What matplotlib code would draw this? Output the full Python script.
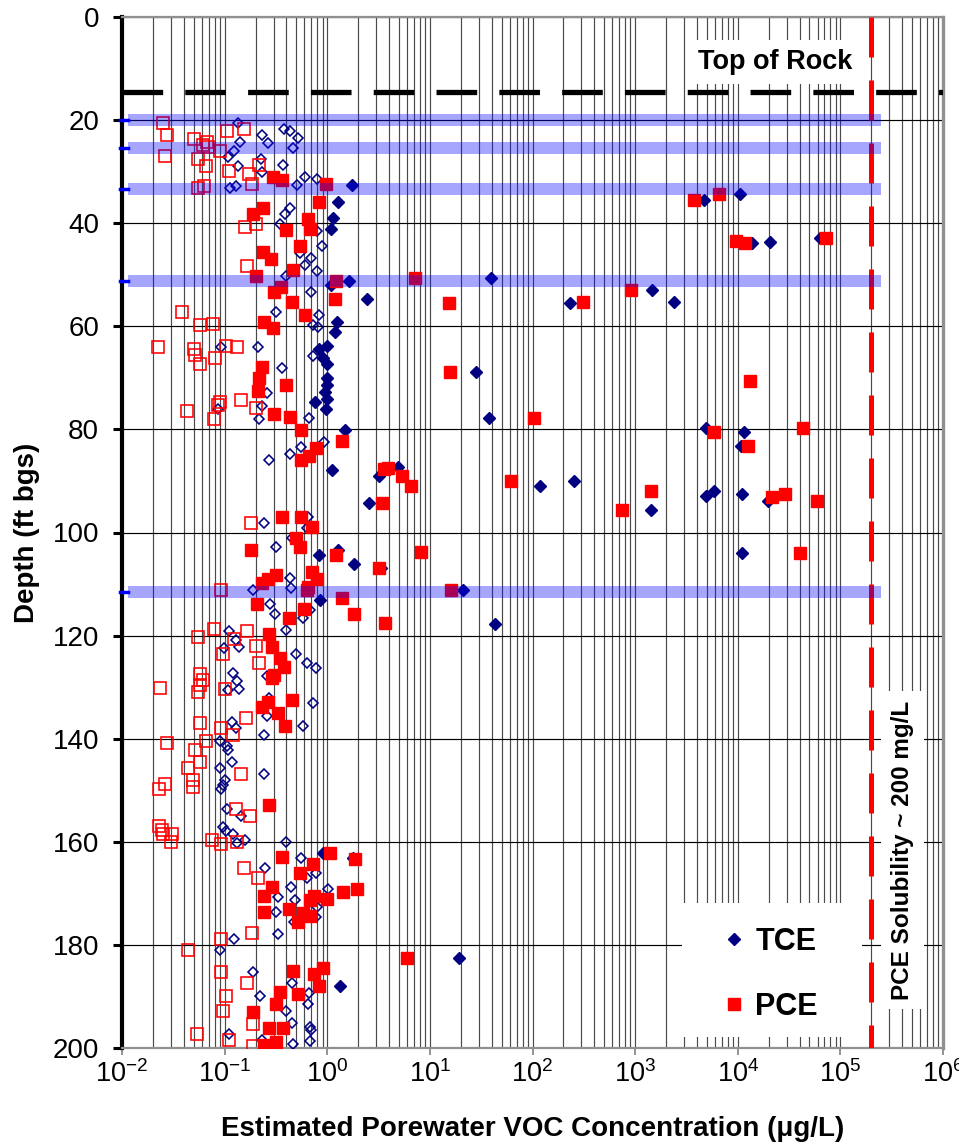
import numpy as np
import matplotlib
matplotlib.use('Agg')
import matplotlib.pyplot as plt
from matplotlib.ticker import LogLocator, FixedLocator, NullFormatter, LogFormatterSciNotation
from matplotlib.patches import Rectangle

plt.rcParams['font.family'] = ['Liberation Sans', 'DejaVu Sans']
plt.rcParams['mathtext.fontset'] = 'custom'
plt.rcParams['mathtext.rm'] = 'Liberation Sans'
plt.rcParams['mathtext.it'] = 'Liberation Sans:italic'
plt.rcParams['mathtext.bf'] = 'Liberation Sans:bold'

# ---------------- data ----------------
tce_conc = [1.73, 1.27, 1.15, 1.10, 1.63, 1.10, 2.44, 1.24, 1.19,
            0.99, 0.83, 0.91, 0.99, 0.99, 1.00, 0.96, 1.00, 0.76, 0.97, 1.49, 1.12, 0.83, 1.28,
            1.84, 0.85, 0.91, 1.8, 1.33,
            39.3, 231, 1449, 2410, 4723, 10550, 13900, 20500, 63000,
            28.3, 37.6, 4856, 11420, 10700, 4.86, 3.21, 2.55, 118.6, 255, 1439, 4944, 5862,
            11000, 19600, 11000, 3.36, 21.1, 42.8, 19.4]
tce_depth = [32.5, 35.9, 38.9, 41.2, 51.2, 52.0, 54.8, 59.1, 61.2,
             63.8, 64.5, 66.2, 67.4, 70.1, 71.4, 72.7, 74.1, 74.6, 76.0, 80.1, 87.9, 104.4, 103.4,
             106.2, 113.0, 162.2, 163.2, 188.0,
             50.7, 55.5, 53.0, 55.2, 35.5, 34.4, 43.8, 43.6, 42.9,
             68.8, 77.7, 79.8, 80.6, 83.2, 87.2, 89.0, 94.2, 90.9, 90.1, 95.6, 92.9, 91.9,
             92.5, 93.8, 104.0, 106.9, 111.2, 117.7, 182.5]

tce_open_conc = [0.136, 0.23, 0.267, 0.141, 0.123, 0.108, 0.379, 0.43, 0.523, 0.46, 0.226, 0.136,
                 0.23, 0.372, 0.113, 0.128, 0.51, 0.608, 0.79, 0.43, 0.388, 0.346, 0.79, 0.89,
                 0.543, 0.70, 0.608, 0.79, 0.40, 0.69, 0.314, 0.837, 0.73, 0.82,
                 0.213, 0.092, 0.72, 0.36, 0.256, 0.23, 0.216, 0.087, 0.66, 0.93, 0.43, 0.56,
                 0.27, 0.243, 0.646, 0.63, 0.45, 0.32,
                 0.188, 0.277, 0.31, 0.575, 0.68, 0.397, 0.43, 0.44, 0.111, 0.128, 0.138, 0.099,
                 0.50, 0.64, 0.78, 0.256, 0.12, 0.131, 0.138, 0.108, 0.27, 0.256, 0.73, 0.575,
                 0.117, 0.128, 0.243, 0.09, 0.106, 0.117, 0.09, 0.24, 0.101, 0.097, 0.093, 0.108,
                 0.106, 0.146, 0.097, 0.104, 0.121, 0.131, 0.158, 0.40, 0.557, 0.25, 0.63, 0.78,
                 0.44, 1.02, 0.33, 0.48, 0.32, 0.79, 0.78, 0.47, 0.33, 0.124, 0.09, 0.19, 0.45,
                 0.67, 0.22, 0.65, 0.397, 0.45, 0.68, 0.69, 0.11, 0.23, 0.46, 0.68]
tce_open_depth = [20.5, 22.8, 24.5, 24.3, 26.0, 27.2, 21.8, 22.2, 23.5, 25.5, 27.6, 28.9,
                  30.0, 28.7, 33.2, 32.8, 32.6, 31.1, 31.5, 37.1, 38.3, 40.2, 41.6, 44.4,
                  45.8, 46.8, 48.2, 49.2, 50.2, 53.4, 57.2, 57.8, 59.7, 60.2,
                  64.1, 64.0, 65.8, 68.0, 73.0, 75.5, 78.0, 76.1, 77.7, 82.4, 84.8, 83.5,
                  85.9, 98.1, 96.9, 99.2, 101.1, 102.9,
                  111.2, 113.9, 115.8, 116.6, 115.0, 118.9, 108.9, 110.8, 119.2, 120.9, 122.2, 122.5,
                  123.6, 125.4, 126.2, 127.8, 127.3, 128.9, 130.4, 130.6, 132.2, 135.5, 133.0, 137.5,
                  136.8, 137.9, 139.2, 140.4, 141.4, 144.5, 145.6, 146.8, 148.1, 149.0, 149.8, 142.2,
                  153.7, 155.0, 157.2, 158.0, 158.4, 160.3, 159.7, 160.1, 163.1, 165.0, 167.1, 166.1,
                  168.8, 169.2, 170.8, 171.3, 173.6, 172.7, 174.5, 175.5, 177.8, 178.9, 181.0, 185.2, 187.3,
                  189.4, 190.0, 191.5, 192.9, 195.2, 196.0, 196.6, 197.3, 198.5, 199.2, 198.6]

pce_conc = [0.298, 0.36, 0.973, 0.837, 0.235, 0.19, 0.646, 0.397, 0.68, 0.543, 0.237, 0.283,
            0.468, 0.201, 1.21, 0.355, 0.305, 1.19, 0.451, 0.608, 0.244, 0.294,
            0.233, 0.216, 0.213, 0.397, 0.30, 0.43, 0.557, 1.40, 0.77, 0.66, 0.56, 0.366, 0.557,
            0.71, 0.50, 0.543, 0.18, 1.21,
            0.314, 0.267, 0.23, 0.71, 0.79, 0.65, 0.64, 1.40, 0.205, 0.60, 0.42, 1.84, 0.27, 0.29,
            0.35, 0.38, 0.30, 0.29, 0.45, 0.267, 0.23, 0.33, 0.39,
            0.27, 0.36, 0.73, 1.07, 1.86, 0.543, 0.287, 0.24, 1.42, 1.94, 1.0, 0.75, 0.68, 0.42,
            0.243, 0.58, 0.68, 0.52, 0.46, 0.75, 0.91, 0.84, 0.52, 0.35, 0.32, 0.19, 0.27, 0.37,
            0.32, 0.243,
            7.17, 15.5, 311, 902, 3741, 6516, 9600, 11700, 71700,
            15.6, 104, 13300, 5862, 12500, 43500, 3.56, 3.89, 5.3, 6.59, 3.44, 62.1, 1413, 752,
            21400, 29000, 59300, 8.17, 3.16, 15.9, 3.69, 40200, 6.04]
pce_depth = [31.1, 31.6, 32.4, 35.8, 37.1, 38.3, 39.1, 41.4, 41.2, 44.4, 45.6, 46.9,
             49.1, 50.2, 51.2, 52.3, 53.4, 54.7, 55.2, 57.8, 59.1, 60.4,
             67.8, 70.1, 72.6, 71.3, 77.1, 77.5, 80.1, 82.2, 83.7, 85.2, 85.9, 96.9, 96.9,
             99.0, 101.1, 102.8, 103.4, 104.4,
             108.2, 109.1, 109.7, 107.6, 109.1, 110.5, 111.2, 112.8, 113.9, 114.9, 116.6, 115.9, 119.6, 122.3,
             124.4, 126.0, 127.6, 128.2, 132.5, 132.9, 133.8, 135.1, 137.5,
             152.9, 163.0, 164.3, 162.2, 163.4, 166.0, 168.8, 170.6, 169.7, 169.2, 171.0, 170.5, 171.3, 173.1,
             173.7, 173.9, 174.4, 175.5, 185.1, 185.7, 184.5, 188.0, 189.5, 189.2, 191.5, 193.1, 196.2, 196.2,
             198.9, 199.4,
             50.7, 55.5, 55.2, 53.0, 35.5, 34.4, 43.5, 43.8, 42.9,
             68.8, 77.7, 70.6, 80.6, 83.2, 79.8, 87.6, 87.4, 89.0, 90.9, 94.2, 90.1, 91.9, 95.6,
             93.1, 92.5, 93.8, 103.8, 106.9, 111.2, 117.6, 104.0, 182.5]

pce_open_conc = [0.0253, 0.0277, 0.0507, 0.0669, 0.069, 0.061, 0.106, 0.156, 0.090, 0.0262, 0.0554,
                 0.0659, 0.110, 0.216, 0.174, 0.186, 0.0547, 0.0631, 0.158, 0.201, 0.164, 0.0387,
                 0.0575, 0.0776,
                 0.0223, 0.0507, 0.052, 0.0575, 0.081, 0.104, 0.131, 0.146, 0.09, 0.087, 0.0427,
                 0.0794, 0.201, 0.18,
                 0.092, 0.078, 0.055, 0.164, 0.124, 0.097, 0.20, 0.216, 0.058, 0.062, 0.057, 0.0554,
                 0.0235, 0.101, 0.162, 0.057, 0.093, 0.12, 0.066, 0.0273, 0.0515, 0.0575, 0.0437,
                 0.144, 0.0262, 0.0231, 0.0495, 0.0495,
                 0.0231, 0.0243, 0.0253, 0.0304, 0.0297, 0.076, 0.092, 0.131, 0.128, 0.176, 0.155,
                 0.213, 0.184, 0.092, 0.0437, 0.093, 0.164, 0.104, 0.097, 0.188, 0.054, 0.11, 0.188]
pce_open_depth = [20.5, 22.8, 23.7, 24.2, 25.2, 24.8, 22.2, 21.8, 26.0, 27.0, 27.6,
                  28.9, 29.9, 28.7, 30.5, 32.4, 33.1, 32.8, 40.7, 40.2, 48.3, 57.2,
                  59.7, 59.6,
                  64.1, 64.5, 65.6, 67.4, 66.1, 63.8, 64.1, 74.2, 74.6, 75.3, 76.4,
                  78.0, 75.9, 98.2,
                  111.2, 118.7, 120.2, 119.1, 120.7, 123.6, 122.0, 125.4, 127.4, 128.7, 129.6, 130.9,
                  130.1, 130.4, 135.9, 136.9, 138.0, 139.2, 140.4, 140.8, 142.2, 144.6, 145.6,
                  146.8, 148.7, 149.8, 148.0, 149.4,
                  156.9, 157.7, 158.4, 158.4, 160.1, 159.7, 160.4, 160.1, 153.7, 154.9, 165.0,
                  167.1, 177.6, 178.9, 180.9, 185.2, 187.4, 190.0, 192.8, 195.3, 197.3, 198.5, 199.7]

band_depths = [20.0, 25.4, 33.4, 51.2, 111.5]
top_of_rock = 14.5
pce_solubility = 2e5
y_ticks = [0, 20, 40, 60, 80, 100, 120, 140, 160, 180, 200]

# ---------------- figure ----------------
fig = plt.figure(figsize=(9.59, 11.42), dpi=100)
ax = fig.add_axes([122/959, 1-1048/1142, 821/959, 1031/1142])
ax.set_xscale('log')
ax.set_xlim(1e-2, 1e6)
ax.set_ylim(200, 0)

ax.xaxis.set_major_locator(LogLocator(base=10, numticks=20))
ax.xaxis.set_minor_locator(LogLocator(base=10, subs=np.arange(2, 10), numticks=200))
ax.xaxis.set_minor_formatter(NullFormatter())
ax.xaxis.set_major_formatter(LogFormatterSciNotation())
ax.yaxis.set_major_locator(FixedLocator(y_ticks))

ax.grid(True, which='both', axis='x', color='#4a4a4a', lw=0.85)
ax.grid(True, which='major', axis='y', color='black', lw=0.85)
ax.set_axisbelow(True)

ax.tick_params(axis='x', which='minor', length=0)
ax.tick_params(axis='x', which='major', length=5, width=1.2, color='#808080',
               labelsize=19.5, pad=4)
ax.tick_params(axis='y', which='major', length=6.5, width=2.2, color='black',
               labelsize=20, pad=10)

for s in ['top', 'bottom']:
    ax.spines[s].set_color('#909090')
    ax.spines[s].set_linewidth(1.6)
ax.spines['right'].set_color('#909090')
ax.spines['right'].set_linewidth(2.4)
ax.spines['left'].set_color('black')
ax.spines['left'].set_linewidth(3)

# markers
ax.plot(tce_open_conc, tce_open_depth, ls='none', marker='D', ms=5.4, mfc='none',
        mec='#000080', mew=1.15, zorder=3)
ax.plot(pce_open_conc, pce_open_depth, ls='none', marker='s', ms=8.2, mfc='none',
        mec='#ff0000', mew=1.15, zorder=3)
ax.plot(tce_conc, tce_depth, ls='none', marker='D', ms=6.5, color='#000080',
        mec='#000080', mew=1, zorder=4, label='TCE')
ax.plot(pce_conc, pce_depth, ls='none', marker='s', ms=9.3, color='#ff0000',
        mec='#ff0000', mew=1, zorder=5, label='PCE')

# top of rock
ax.plot([1e-2, 1e6], [top_of_rock, top_of_rock], color='black', lw=3.8,
        dashes=(7.7, 4.2), zorder=5)
ax.text(0.7954, 0.9563, 'Top of Rock', transform=ax.transAxes, ha='center', va='center',
        fontsize=19.5, fontweight='bold', zorder=7,
        bbox=dict(facecolor='white', edgecolor='none', pad=6.5))

# PCE solubility
ax.plot([pce_solubility, pce_solubility], [0, 200], color='#ff0000', lw=3.6,
        dashes=(8.0, 4.6), zorder=8)
ax.text(0.9507, 0.192, 'PCE Solubility ~ 200 mg/L', transform=ax.transAxes, rotation=90,
        ha='center', va='center', fontsize=17.5, fontweight='bold', zorder=7,
        bbox=dict(facecolor='white', edgecolor='none', pad=7))

# bands
for d in band_depths:
    ax.axhspan(d - 1.15, d + 1.15, xmin=0.0073, xmax=0.9245, color='#0000ff',
               alpha=0.35, lw=0, zorder=9)
    ax.axhline(d, xmin=-0.002, xmax=0.0073, color='#0000ff', lw=2.5, zorder=10,
               clip_on=False)

# legend
ax.add_patch(Rectangle((0.682, 0.0107), 0.219, 0.130, transform=ax.transAxes,
                       facecolor='white', edgecolor='none', zorder=6))
leg = ax.legend(loc='center', bbox_to_anchor=(0.7880, 0.0715), frameon=False,
                prop=dict(size=22, weight='bold'), handlelength=0.9, handletextpad=0.25,
                labelspacing=1.15, numpoints=1, borderpad=0)
leg.set_zorder(7)

ax.set_xlabel('Estimated Porewater VOC Concentration (\u03bcg/L)', fontsize=20,
              fontweight='bold')
ax.xaxis.set_label_coords(0.5, -0.066)
ax.set_ylabel('Depth (ft bgs)', fontsize=20, fontweight='bold')
ax.yaxis.set_label_coords(-0.100, 0.5)

fig.savefig('out.png', dpi=100)
